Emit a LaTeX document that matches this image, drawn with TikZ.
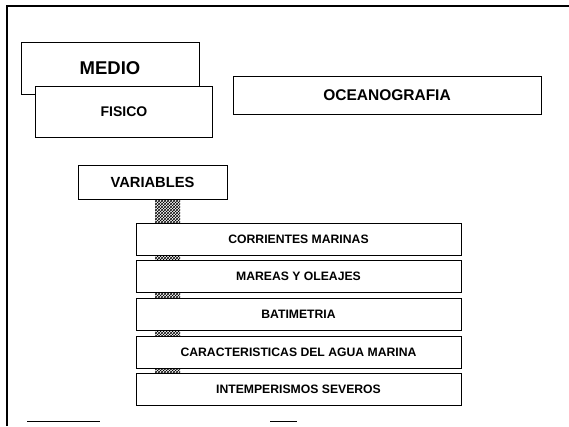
\documentclass[tikz,border=0pt]{standalone}
\usepackage{fontspec}
\setmainfont{Liberation Sans}
\usepackage{tikz}
\usetikzlibrary{patterns, backgrounds, calc}

\tikzset{
  box/.style={draw, fill=white, line width=0.8pt, inner sep=0pt, font=\bfseries},
  itembox/.style={box, minimum width=325, minimum height=32, font=\bfseries\fontsize{12.2}{14}\selectfont},
  frameline/.style={line width=1.6pt}
}

\begin{document}
\begin{tikzpicture}[x=1pt, y=-1pt]
    \useasboundingbox (0,0) rectangle (569,426);
    % marco
    \draw[frameline] (7,426) -- (7,6) -- (569,6);
    \draw[line width=0.8pt] (27,421) -- (100,421);
    \draw[line width=0.8pt] (270,421) -- (297,421);
    % cabecera
    \node[box, minimum width=178, minimum height=52, font=\bfseries\fontsize{18.5}{20}\selectfont] (medio) at (110,68) {MEDIO};
    \node[box, minimum width=177, minimum height=51, font=\bfseries\fontsize{14}{16}\selectfont] (fisico) at (124,111.5) {FISICO};
    \node[box, minimum width=308, minimum height=38, font=\bfseries\fontsize{15.5}{17}\selectfont] (ocean) at (387,95) {OCEANOGRAFIA};
    \node[box, minimum width=149, minimum height=34, font=\bfseries\fontsize{14.7}{16}\selectfont] (vars) at (152.5,182) {VARIABLES};
    % lista de variables
    \node[itembox] (l1) at (298.5,239)   {CORRIENTES MARINAS};
    \node[itembox] (l2) at (298.5,276.5) {MAREAS Y OLEAJES};
    \node[itembox] (l3) at (298.5,314.5) {BATIMETRIA};
    \node[itembox] (l4) at (298.5,352)   {CARACTERISTICAS DEL AGUA MARINA};
    \node[itembox] (l5) at (298.5,389.5) {INTEMPERISMOS SEVEROS};
    \begin{scope}[on background layer]
      \path[pattern=crosshatch] ($(vars.south)+(2.5,0)$) rectangle ($(l5.north -| vars.south)+(27.5,0)$);
    \end{scope}
  \end{tikzpicture}
\end{document}
